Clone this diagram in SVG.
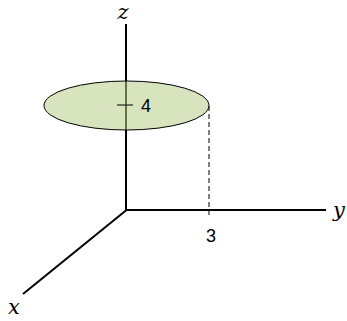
<svg xmlns="http://www.w3.org/2000/svg" width="347" height="321" viewBox="0 0 347 321">
<style>
.axis{stroke:#000;stroke-width:2;fill:none;stroke-linecap:butt}
.lbl{font-family:"DejaVu Serif","Liberation Serif",serif;font-style:italic;font-size:21px;fill:#000}
.num{font-family:"Liberation Sans",Arial,sans-serif;font-size:18px;fill:#000}
</style>
<rect width="347" height="321" fill="#fff"/>
<g id="connectors">
<line class="axis" x1="126" y1="24" x2="126" y2="211"/>
<line class="axis" x1="125" y1="210" x2="326" y2="210"/>
<line class="axis" x1="126.5" y1="210" x2="23" y2="294"/>
<line x1="209" y1="106" x2="209" y2="216" stroke="#000" stroke-width="1" stroke-dasharray="5,3"/>
</g>
<g id="disk">
<ellipse cx="126.5" cy="105.5" rx="82.5" ry="24.5" fill="#b6ce87" fill-opacity="0.55" stroke="#000" stroke-width="1"/>
<line x1="117" y1="105" x2="133" y2="105" stroke="#222" stroke-width="1.2"/>
<text class="num" x="141" y="112">4</text>
</g>
<g id="labels">
<text class="lbl" x="123" y="19" text-anchor="middle">z</text>
<text class="lbl" x="333" y="217">y</text>
<text class="lbl" x="8" y="314">x</text>
<text class="num" x="211" y="242" text-anchor="middle">3</text>
</g>
</svg>
